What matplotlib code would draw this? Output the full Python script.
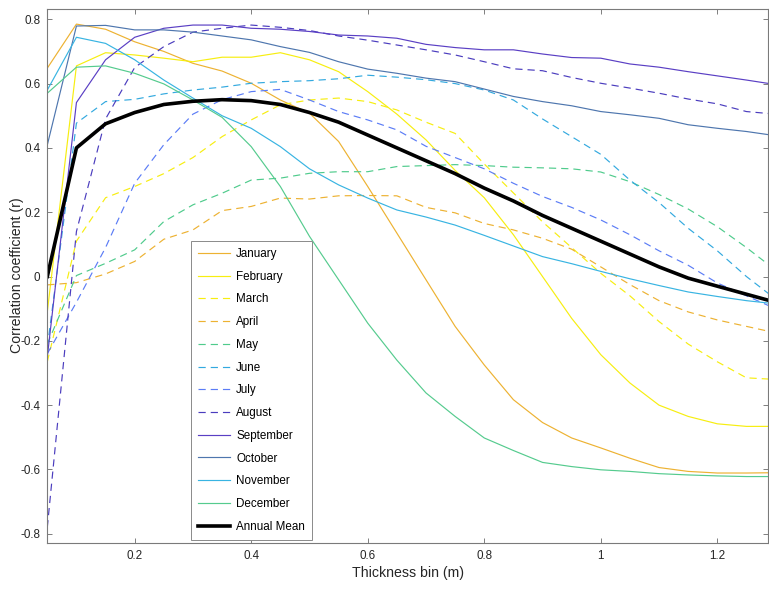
import numpy as np
import matplotlib
matplotlib.use("Agg")
import matplotlib.pyplot as plt

plt.rcParams['font.family'] = ['Liberation Sans', 'DejaVu Sans']
plt.rcParams['lines.scale_dashes'] = False

thickness = [0.05, 0.10, 0.15, 0.20, 0.25, 0.30, 0.35, 0.40, 0.45, 0.50, 0.55, 0.60, 0.65,
             0.70, 0.75, 0.80, 0.85, 0.90, 0.95, 1.00, 1.05, 1.10, 1.15, 1.20, 1.25, 1.30]

january = [0.648, 0.785, 0.769, 0.73, 0.70, 0.663, 0.639, 0.601, 0.549, 0.508, 0.42, 0.28, 0.135,
           -0.01, -0.155, -0.275, -0.383, -0.454, -0.502, -0.533, -0.565, -0.594, -0.606, -0.611, -0.611, -0.61]
february = [-0.11, 0.655, 0.696, 0.689, 0.679, 0.668, 0.682, 0.682, 0.696, 0.674, 0.637, 0.575, 0.505,
            0.425, 0.33, 0.245, 0.13, 0.0, -0.13, -0.243, -0.331, -0.40, -0.435, -0.458, -0.466, -0.466]
march = [-0.265, 0.11, 0.245, 0.28, 0.32, 0.37, 0.435, 0.487, 0.534, 0.549, 0.555, 0.544, 0.518,
         0.48, 0.445, 0.35, 0.26, 0.17, 0.09, 0.01, -0.06, -0.14, -0.21, -0.265, -0.315, -0.32]
april = [-0.026, -0.019, 0.008, 0.047, 0.116, 0.145, 0.205, 0.218, 0.244, 0.241, 0.251, 0.252, 0.251,
         0.215, 0.198, 0.165, 0.145, 0.119, 0.085, 0.03, -0.025, -0.075, -0.11, -0.135, -0.155, -0.175]
may = [-0.21, 0.003, 0.041, 0.083, 0.171, 0.223, 0.259, 0.30, 0.306, 0.321, 0.326, 0.326, 0.342,
       0.345, 0.348, 0.345, 0.34, 0.338, 0.335, 0.325, 0.295, 0.255, 0.21, 0.155, 0.09, 0.02]
june = [-0.22, 0.477, 0.544, 0.551, 0.568, 0.58, 0.589, 0.601, 0.606, 0.609, 0.615, 0.626, 0.62,
        0.612, 0.60, 0.58, 0.549, 0.49, 0.435, 0.38, 0.30, 0.23, 0.15, 0.08, 0.0, -0.07]
july = [-0.24, -0.08, 0.09, 0.29, 0.41, 0.505, 0.55, 0.575, 0.582, 0.549, 0.513, 0.487, 0.456,
        0.405, 0.37, 0.335, 0.29, 0.249, 0.215, 0.176, 0.13, 0.08, 0.035, -0.02, -0.06, -0.1]
august = [-0.78, 0.14, 0.49, 0.65, 0.715, 0.76, 0.772, 0.782, 0.775, 0.765, 0.748, 0.735, 0.72,
          0.705, 0.689, 0.668, 0.646, 0.64, 0.619, 0.601, 0.586, 0.57, 0.552, 0.537, 0.513, 0.505]
september = [-0.25, 0.541, 0.674, 0.744, 0.772, 0.782, 0.782, 0.772, 0.769, 0.762, 0.751, 0.748, 0.741,
             0.722, 0.712, 0.705, 0.705, 0.692, 0.681, 0.679, 0.661, 0.651, 0.637, 0.624, 0.611, 0.597]
october = [0.409, 0.779, 0.781, 0.767, 0.767, 0.76, 0.748, 0.736, 0.715, 0.697, 0.668, 0.645, 0.632,
           0.617, 0.606, 0.583, 0.56, 0.544, 0.531, 0.513, 0.503, 0.492, 0.472, 0.461, 0.451, 0.438]
november = [0.58, 0.744, 0.725, 0.674, 0.611, 0.555, 0.5, 0.461, 0.404, 0.335, 0.285, 0.244, 0.207,
            0.185, 0.16, 0.128, 0.095, 0.062, 0.04, 0.016, -0.007, -0.028, -0.048, -0.062, -0.075, -0.085]
december = [0.57, 0.651, 0.655, 0.632, 0.599, 0.549, 0.495, 0.404, 0.28, 0.125, -0.01, -0.145, -0.26,
            -0.362, -0.435, -0.502, -0.541, -0.578, -0.591, -0.601, -0.606, -0.613, -0.617, -0.62, -0.622, -0.622]
annual_mean = [0.0, 0.40, 0.475, 0.51, 0.535, 0.545, 0.55, 0.547, 0.535, 0.51, 0.48, 0.44, 0.40,
               0.36, 0.32, 0.275, 0.235, 0.19, 0.15, 0.11, 0.07, 0.03, -0.005, -0.03, -0.055, -0.08]

month_names = ['January', 'February', 'March', 'April', 'May', 'June', 'July', 'August',
               'September', 'October', 'November', 'December']
month_values = [january, february, march, april, may, june, july, august,
                september, october, november, december]
month_colors = ['#EDB232', '#F7EE10', '#F7EE10', '#EDB232', '#4FCB8C', '#33A9DF',
                '#5B7CF6', '#4A3CBE', '#5A3FC4', '#4E76AE', '#38B4E2', '#55CB8E']
month_styles = ['-', '-', '--', '--', '--', '--', '--', '--', '-', '-', '-', '-']

W, H = 769, 590
fig = plt.figure(figsize=(W / 100, H / 100), dpi=100)
left, right, top, bottom = 47.3, 768.4, 9.3, 542.8
ax = fig.add_axes([left / W, 1 - bottom / H, (right - left) / W, (bottom - top) / H])

for name, vals, col, ls in zip(month_names, month_values, month_colors, month_styles):
    if ls == '--':
        ax.plot(thickness, vals, color=col, lw=0.85, dashes=(5.2, 3.6), label=name)
    else:
        ax.plot(thickness, vals, color=col, lw=0.85, label=name)
ax.plot(thickness, annual_mean, color='black', lw=2.6, label='Annual Mean')

ax.set_xlim(0.05, 1.2877)
ax.set_ylim(-0.828, 0.831)
ax.set_xticks([0.2, 0.4, 0.6, 0.8, 1.0, 1.2])
ax.set_xticklabels(['0.2', '0.4', '0.6', '0.8', '1', '1.2'])
ax.set_yticks([-0.8, -0.6, -0.4, -0.2, 0, 0.2, 0.4, 0.6, 0.8])
ax.set_yticklabels(['-0.8', '-0.6', '-0.4', '-0.2', '0', '0.2', '0.4', '0.6', '0.8'])
ax.tick_params(direction='in', top=True, right=True, length=3.5, width=0.6,
               color='#6a6a6a', labelcolor='#262626', labelsize=8.4, pad=5)
for sp in ax.spines.values():
    sp.set_color('#7a7a7a')
    sp.set_linewidth(0.8)

ax.set_xlabel('Thickness bin (m)', fontsize=10.2, color='#262626', labelpad=3)
fig.text(17.5 / W, 1 - 275 / H, 'Correlation coefficient (r)', rotation=90,
         ha='center', va='center', fontsize=10.2, color='#262626')

axw = right - left
axh = bottom - top
leg = ax.legend(loc='lower left',
                bbox_to_anchor=((191 - left) / axw, (bottom - 540) / axh),
                fontsize=8.4, frameon=True, fancybox=False, edgecolor='#8a8a8a',
                framealpha=1, handlelength=2.75, handletextpad=0.5,
                labelspacing=0.92, borderpad=0.62, borderaxespad=0)
leg.get_frame().set_linewidth(0.7)

fig.savefig('out.png', dpi=100)
